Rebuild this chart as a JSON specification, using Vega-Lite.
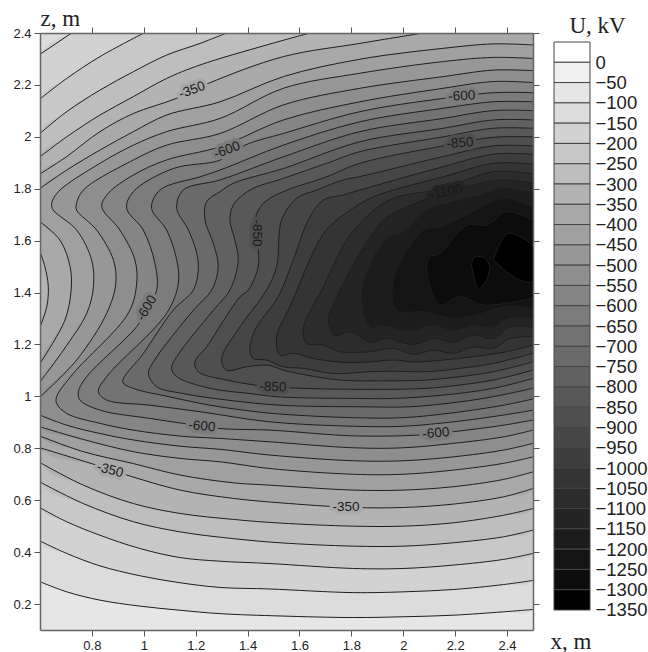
{"$schema":"https://vega.github.io/schema/vega-lite/v6.json","autosize":{"type":"none"},"padding":{"left":40,"top":33,"right":608,"bottom":619},"background":"white","bounds":"flush","spacing":21,
"datasets":{"contours":[
{"level":-100,"seg":"b","i":1,"x":0.6,"z":0.286},{"level":-100,"seg":"b","i":2,"x":0.703,"z":0.247},{"level":-100,"seg":"b","i":3,"x":0.831,"z":0.215},{"level":-100,"seg":"b","i":4,"x":0.985,"z":0.192},{"level":-100,"seg":"b","i":5,"x":1.14,"z":0.176},{"level":-100,"seg":"b","i":6,"x":1.294,"z":0.163},{"level":-100,"seg":"b","i":7,"x":1.525,"z":0.154},{"level":-100,"seg":"b","i":8,"x":1.808,"z":0.148},{"level":-100,"seg":"b","i":9,"x":2.0,"z":0.151},{"level":-100,"seg":"b","i":10,"x":2.193,"z":0.157},{"level":-100,"seg":"b","i":11,"x":2.386,"z":0.17},{"level":-100,"seg":"b","i":12,"x":2.5,"z":0.179},{"level":-100,"seg":"e","i":13,"x":2.5,"z":2.4},{"level":-100,"seg":"e","i":14,"x":0.6,"z":2.4},
{"level":-150,"seg":"a","i":1,"x":0.722,"z":2.4},{"level":-150,"seg":"a","i":2,"x":0.6,"z":2.318},{"level":-150,"seg":"b","i":3,"x":0.6,"z":0.443},{"level":-150,"seg":"b","i":4,"x":0.703,"z":0.395},{"level":-150,"seg":"b","i":5,"x":0.831,"z":0.347},{"level":-150,"seg":"b","i":6,"x":0.985,"z":0.309},{"level":-150,"seg":"b","i":7,"x":1.14,"z":0.282},{"level":-150,"seg":"b","i":8,"x":1.294,"z":0.264},{"level":-150,"seg":"b","i":9,"x":1.486,"z":0.258},{"level":-150,"seg":"b","i":10,"x":1.808,"z":0.244},{"level":-150,"seg":"b","i":11,"x":2.0,"z":0.247},{"level":-150,"seg":"b","i":12,"x":2.193,"z":0.256},{"level":-150,"seg":"b","i":13,"x":2.386,"z":0.275},{"level":-150,"seg":"b","i":14,"x":2.5,"z":0.291},{"level":-150,"seg":"e","i":15,"x":2.5,"z":2.4},
{"level":-200,"seg":"a","i":1,"x":1.0,"z":2.4},{"level":-200,"seg":"a","i":2,"x":0.831,"z":2.309},{"level":-200,"seg":"a","i":3,"x":0.703,"z":2.225},{"level":-200,"seg":"a","i":4,"x":0.6,"z":2.146},{"level":-200,"seg":"b","i":5,"x":0.6,"z":0.571},{"level":-200,"seg":"b","i":6,"x":0.703,"z":0.517},{"level":-200,"seg":"b","i":7,"x":0.831,"z":0.465},{"level":-200,"seg":"b","i":8,"x":0.985,"z":0.414},{"level":-200,"seg":"b","i":9,"x":1.14,"z":0.379},{"level":-200,"seg":"b","i":10,"x":1.294,"z":0.365},{"level":-200,"seg":"b","i":11,"x":1.486,"z":0.356},{"level":-200,"seg":"b","i":12,"x":1.808,"z":0.337},{"level":-200,"seg":"b","i":13,"x":2.0,"z":0.337},{"level":-200,"seg":"b","i":14,"x":2.193,"z":0.35},{"level":-200,"seg":"b","i":15,"x":2.386,"z":0.372},{"level":-200,"seg":"b","i":16,"x":2.5,"z":0.395},{"level":-200,"seg":"e","i":17,"x":2.5,"z":2.4},
{"level":-250,"seg":"a","i":1,"x":1.319,"z":2.4},{"level":-250,"seg":"a","i":2,"x":1.217,"z":2.36},{"level":-250,"seg":"a","i":3,"x":1.088,"z":2.315},{"level":-250,"seg":"a","i":4,"x":0.96,"z":2.251},{"level":-250,"seg":"a","i":5,"x":0.831,"z":2.18},{"level":-250,"seg":"a","i":6,"x":0.703,"z":2.097},{"level":-250,"seg":"a","i":7,"x":0.6,"z":2.013},{"level":-250,"seg":"b","i":8,"x":0.6,"z":0.67},{"level":-250,"seg":"b","i":9,"x":0.767,"z":0.587},{"level":-250,"seg":"b","i":10,"x":0.96,"z":0.517},{"level":-250,"seg":"b","i":11,"x":1.14,"z":0.478},{"level":-250,"seg":"b","i":12,"x":1.345,"z":0.452},{"level":-250,"seg":"b","i":13,"x":1.525,"z":0.436},{"level":-250,"seg":"b","i":14,"x":1.808,"z":0.423},{"level":-250,"seg":"b","i":15,"x":2.0,"z":0.423},{"level":-250,"seg":"b","i":16,"x":2.193,"z":0.436},{"level":-250,"seg":"b","i":17,"x":2.386,"z":0.459},{"level":-250,"seg":"b","i":18,"x":2.5,"z":0.485},{"level":-250,"seg":"e","i":19,"x":2.5,"z":2.4},
{"level":-300,"seg":"a","i":1,"x":1.64,"z":2.4},{"level":-300,"seg":"a","i":2,"x":1.474,"z":2.354},{"level":-300,"seg":"a","i":3,"x":1.217,"z":2.277},{"level":-300,"seg":"a","i":4,"x":1.088,"z":2.225},{"level":-300,"seg":"a","i":5,"x":0.96,"z":2.155},{"level":-300,"seg":"a","i":6,"x":0.831,"z":2.084},{"level":-300,"seg":"a","i":7,"x":0.703,"z":2.0},{"level":-300,"seg":"a","i":8,"x":0.6,"z":1.923},{"level":-300,"seg":"b","i":9,"x":0.6,"z":0.745},{"level":-300,"seg":"b","i":10,"x":0.767,"z":0.658},{"level":-300,"seg":"b","i":11,"x":0.96,"z":0.587},{"level":-300,"seg":"b","i":12,"x":1.14,"z":0.549},{"level":-300,"seg":"b","i":13,"x":1.345,"z":0.526},{"level":-300,"seg":"b","i":14,"x":1.525,"z":0.512},{"level":-300,"seg":"b","i":15,"x":1.808,"z":0.5},{"level":-300,"seg":"b","i":16,"x":2.0,"z":0.5},{"level":-300,"seg":"b","i":17,"x":2.193,"z":0.513},{"level":-300,"seg":"b","i":18,"x":2.386,"z":0.542},{"level":-300,"seg":"b","i":19,"x":2.5,"z":0.568},{"level":-300,"seg":"e","i":20,"x":2.5,"z":2.4},
{"level":-350,"seg":"a","i":1,"x":2.077,"z":2.4},{"level":-350,"seg":"a","i":2,"x":1.833,"z":2.36},{"level":-350,"seg":"a","i":3,"x":1.538,"z":2.309},{"level":-350,"seg":"a","i":4,"x":1.249,"z":2.206},{"level":-350,"seg":"a","i":5,"x":1.12,"z":2.146},{"level":-350,"seg":"a","i":6,"x":0.96,"z":2.09},{"level":-350,"seg":"a","i":7,"x":0.831,"z":2.02},{"level":-350,"seg":"a","i":8,"x":0.703,"z":1.924},{"level":-350,"seg":"a","i":9,"x":0.6,"z":1.857},{"level":-350,"seg":"b","i":10,"x":0.6,"z":1.557},{"level":-350,"seg":"b","i":11,"x":0.619,"z":1.499},{"level":-350,"seg":"b","i":12,"x":0.632,"z":1.423},{"level":-350,"seg":"b","i":13,"x":0.626,"z":1.345},{"level":-350,"seg":"b","i":14,"x":0.6,"z":1.268},{"level":-350,"seg":"c","i":15,"x":0.6,"z":0.802},{"level":-350,"seg":"c","i":16,"x":0.818,"z":0.735},{"level":-350,"seg":"c","i":17,"x":0.934,"z":0.697},{"level":-350,"seg":"c","i":18,"x":1.14,"z":0.639},{"level":-350,"seg":"c","i":19,"x":1.345,"z":0.607},{"level":-350,"seg":"c","i":20,"x":1.525,"z":0.59},{"level":-350,"seg":"c","i":21,"x":1.808,"z":0.572},{"level":-350,"seg":"c","i":22,"x":2.0,"z":0.572},{"level":-350,"seg":"c","i":23,"x":2.193,"z":0.585},{"level":-350,"seg":"c","i":24,"x":2.386,"z":0.613},{"level":-350,"seg":"c","i":25,"x":2.5,"z":0.645},{"level":-350,"seg":"e","i":26,"x":2.5,"z":2.4},
{"level":-400,"seg":"a","i":1,"x":2.5,"z":2.354},{"level":-400,"seg":"a","i":2,"x":2.347,"z":2.358},{"level":-400,"seg":"a","i":3,"x":2.154,"z":2.341},{"level":-400,"seg":"a","i":4,"x":1.833,"z":2.299},{"level":-400,"seg":"a","i":5,"x":1.538,"z":2.232},{"level":-400,"seg":"a","i":6,"x":1.294,"z":2.135},{"level":-400,"seg":"a","i":7,"x":1.088,"z":2.084},{"level":-400,"seg":"a","i":8,"x":0.96,"z":2.02},{"level":-400,"seg":"a","i":9,"x":0.831,"z":1.949},{"level":-400,"seg":"a","i":10,"x":0.703,"z":1.872},{"level":-400,"seg":"a","i":11,"x":0.6,"z":1.801},{"level":-400,"seg":"b","i":12,"x":0.6,"z":1.673},{"level":-400,"seg":"b","i":13,"x":0.677,"z":1.602},{"level":-400,"seg":"b","i":14,"x":0.716,"z":1.5},{"level":-400,"seg":"b","i":15,"x":0.72,"z":1.41},{"level":-400,"seg":"b","i":16,"x":0.696,"z":1.294},{"level":-400,"seg":"b","i":17,"x":0.6,"z":1.127},{"level":-400,"seg":"c","i":18,"x":0.6,"z":0.847},{"level":-400,"seg":"c","i":19,"x":0.767,"z":0.787},{"level":-400,"seg":"c","i":20,"x":0.96,"z":0.741},{"level":-400,"seg":"c","i":21,"x":1.14,"z":0.697},{"level":-400,"seg":"c","i":22,"x":1.345,"z":0.667},{"level":-400,"seg":"c","i":23,"x":1.486,"z":0.658},{"level":-400,"seg":"c","i":24,"x":1.808,"z":0.639},{"level":-400,"seg":"c","i":25,"x":2.0,"z":0.639},{"level":-400,"seg":"c","i":26,"x":2.193,"z":0.652},{"level":-400,"seg":"c","i":27,"x":2.386,"z":0.68},{"level":-400,"seg":"c","i":28,"x":2.5,"z":0.709},
{"level":-450,"seg":"a","i":1,"x":2.5,"z":2.302},{"level":-450,"seg":"a","i":2,"x":2.347,"z":2.306},{"level":-450,"seg":"a","i":3,"x":2.154,"z":2.29},{"level":-450,"seg":"a","i":4,"x":1.833,"z":2.245},{"level":-450,"seg":"a","i":5,"x":1.538,"z":2.187},{"level":-450,"seg":"a","i":6,"x":1.294,"z":2.071},{"level":-450,"seg":"a","i":7,"x":1.088,"z":2.02},{"level":-450,"seg":"a","i":8,"x":0.96,"z":1.968},{"level":-450,"seg":"a","i":9,"x":0.831,"z":1.898},{"level":-450,"seg":"a","i":10,"x":0.671,"z":1.789},{"level":-450,"seg":"a","i":11,"x":0.645,"z":1.744},{"level":-450,"seg":"a","i":12,"x":0.651,"z":1.718},{"level":-450,"seg":"a","i":13,"x":0.741,"z":1.641},{"level":-450,"seg":"a","i":14,"x":0.799,"z":1.525},{"level":-450,"seg":"a","i":15,"x":0.806,"z":1.423},{"level":-450,"seg":"a","i":16,"x":0.78,"z":1.32},{"level":-450,"seg":"a","i":17,"x":0.69,"z":1.178},{"level":-450,"seg":"a","i":18,"x":0.6,"z":1.056},{"level":-450,"seg":"b","i":19,"x":0.6,"z":0.883},{"level":-450,"seg":"b","i":20,"x":0.767,"z":0.834},{"level":-450,"seg":"b","i":21,"x":0.96,"z":0.787},{"level":-450,"seg":"b","i":22,"x":1.14,"z":0.761},{"level":-450,"seg":"b","i":23,"x":1.294,"z":0.748},{"level":-450,"seg":"b","i":24,"x":1.486,"z":0.722},{"level":-450,"seg":"b","i":25,"x":1.808,"z":0.7},{"level":-450,"seg":"b","i":26,"x":2.0,"z":0.7},{"level":-450,"seg":"b","i":27,"x":2.193,"z":0.716},{"level":-450,"seg":"b","i":28,"x":2.386,"z":0.742},{"level":-450,"seg":"b","i":29,"x":2.5,"z":0.767},
{"level":-500,"seg":"a","i":1,"x":2.5,"z":2.255},{"level":-500,"seg":"a","i":2,"x":2.347,"z":2.257},{"level":-500,"seg":"a","i":3,"x":2.154,"z":2.232},{"level":-500,"seg":"a","i":4,"x":1.833,"z":2.187},{"level":-500,"seg":"a","i":5,"x":1.538,"z":2.123},{"level":-500,"seg":"a","i":6,"x":1.294,"z":2.013},{"level":-500,"seg":"a","i":7,"x":1.088,"z":1.968},{"level":-500,"seg":"a","i":8,"x":0.96,"z":1.911},{"level":-500,"seg":"a","i":9,"x":0.767,"z":1.795},{"level":-500,"seg":"a","i":10,"x":0.741,"z":1.744},{"level":-500,"seg":"a","i":11,"x":0.741,"z":1.718},{"level":-500,"seg":"a","i":12,"x":0.818,"z":1.641},{"level":-500,"seg":"a","i":13,"x":0.883,"z":1.525},{"level":-500,"seg":"a","i":14,"x":0.892,"z":1.435},{"level":-500,"seg":"a","i":15,"x":0.857,"z":1.32},{"level":-500,"seg":"a","i":16,"x":0.741,"z":1.14},{"level":-500,"seg":"a","i":17,"x":0.6,"z":0.998},{"level":-500,"seg":"b","i":18,"x":0.6,"z":0.928},{"level":-500,"seg":"b","i":19,"x":0.703,"z":0.889},{"level":-500,"seg":"b","i":20,"x":0.831,"z":0.857},{"level":-500,"seg":"b","i":21,"x":0.96,"z":0.832},{"level":-500,"seg":"b","i":22,"x":1.14,"z":0.808},{"level":-500,"seg":"b","i":23,"x":1.294,"z":0.796},{"level":-500,"seg":"b","i":24,"x":1.486,"z":0.774},{"level":-500,"seg":"b","i":25,"x":1.808,"z":0.752},{"level":-500,"seg":"b","i":26,"x":2.0,"z":0.752},{"level":-500,"seg":"b","i":27,"x":2.193,"z":0.767},{"level":-500,"seg":"b","i":28,"x":2.386,"z":0.793},{"level":-500,"seg":"b","i":29,"x":2.5,"z":0.819},
{"level":-550,"seg":"a","i":1,"x":2.5,"z":2.209},{"level":-550,"seg":"a","i":2,"x":2.347,"z":2.213},{"level":-550,"seg":"a","i":3,"x":2.154,"z":2.187},{"level":-550,"seg":"a","i":4,"x":1.833,"z":2.135},{"level":-550,"seg":"a","i":5,"x":1.538,"z":2.065},{"level":-550,"seg":"a","i":6,"x":1.294,"z":1.962},{"level":-550,"seg":"a","i":7,"x":1.088,"z":1.911},{"level":-550,"seg":"a","i":8,"x":0.96,"z":1.853},{"level":-550,"seg":"a","i":9,"x":0.863,"z":1.782},{"level":-550,"seg":"a","i":10,"x":0.838,"z":1.731},{"level":-550,"seg":"a","i":11,"x":0.908,"z":1.641},{"level":-550,"seg":"a","i":12,"x":0.966,"z":1.525},{"level":-550,"seg":"a","i":13,"x":0.972,"z":1.429},{"level":-550,"seg":"a","i":14,"x":0.94,"z":1.32},{"level":-550,"seg":"a","i":15,"x":0.728,"z":1.088},{"level":-550,"seg":"a","i":16,"x":0.664,"z":0.999},{"level":-550,"seg":"a","i":17,"x":0.664,"z":0.973},{"level":-550,"seg":"a","i":18,"x":0.703,"z":0.934},{"level":-550,"seg":"a","i":19,"x":0.831,"z":0.896},{"level":-550,"seg":"a","i":20,"x":0.96,"z":0.87},{"level":-550,"seg":"a","i":21,"x":1.14,"z":0.847},{"level":-550,"seg":"a","i":22,"x":1.294,"z":0.838},{"level":-550,"seg":"a","i":23,"x":1.486,"z":0.825},{"level":-550,"seg":"a","i":24,"x":1.808,"z":0.802},{"level":-550,"seg":"a","i":25,"x":2.0,"z":0.802},{"level":-550,"seg":"a","i":26,"x":2.193,"z":0.819},{"level":-550,"seg":"a","i":27,"x":2.386,"z":0.844},{"level":-550,"seg":"a","i":28,"x":2.5,"z":0.87},
{"level":-600,"seg":"a","i":1,"x":2.5,"z":2.17},{"level":-600,"seg":"a","i":2,"x":2.347,"z":2.17},{"level":-600,"seg":"a","i":3,"x":2.154,"z":2.148},{"level":-600,"seg":"a","i":4,"x":1.833,"z":2.097},{"level":-600,"seg":"a","i":5,"x":1.538,"z":2.013},{"level":-600,"seg":"a","i":6,"x":1.39,"z":1.968},{"level":-600,"seg":"a","i":7,"x":1.294,"z":1.91},{"level":-600,"seg":"a","i":8,"x":1.114,"z":1.878},{"level":-600,"seg":"a","i":9,"x":0.96,"z":1.789},{"level":-600,"seg":"a","i":10,"x":0.934,"z":1.725},{"level":-600,"seg":"a","i":11,"x":0.998,"z":1.641},{"level":-600,"seg":"a","i":12,"x":1.043,"z":1.512},{"level":-600,"seg":"a","i":13,"x":1.05,"z":1.41},{"level":-600,"seg":"a","i":14,"x":1.011,"z":1.333},{"level":-600,"seg":"a","i":15,"x":0.972,"z":1.268},{"level":-600,"seg":"a","i":16,"x":0.78,"z":1.076},{"level":-600,"seg":"a","i":17,"x":0.748,"z":1.018},{"level":-600,"seg":"a","i":18,"x":0.754,"z":0.986},{"level":-600,"seg":"a","i":19,"x":0.831,"z":0.947},{"level":-600,"seg":"a","i":20,"x":1.024,"z":0.915},{"level":-600,"seg":"a","i":21,"x":1.152,"z":0.896},{"level":-600,"seg":"a","i":22,"x":1.294,"z":0.876},{"level":-600,"seg":"a","i":23,"x":1.486,"z":0.87},{"level":-600,"seg":"a","i":24,"x":1.808,"z":0.848},{"level":-600,"seg":"a","i":25,"x":2.058,"z":0.851},{"level":-600,"seg":"a","i":26,"x":2.193,"z":0.864},{"level":-600,"seg":"a","i":27,"x":2.386,"z":0.889},{"level":-600,"seg":"a","i":28,"x":2.5,"z":0.909},
{"level":-650,"seg":"a","i":1,"x":2.5,"z":2.135},{"level":-650,"seg":"a","i":2,"x":2.347,"z":2.135},{"level":-650,"seg":"a","i":3,"x":2.154,"z":2.11},{"level":-650,"seg":"a","i":4,"x":1.833,"z":2.058},{"level":-650,"seg":"a","i":5,"x":1.538,"z":1.968},{"level":-650,"seg":"a","i":6,"x":1.294,"z":1.872},{"level":-650,"seg":"a","i":7,"x":1.217,"z":1.846},{"level":-650,"seg":"a","i":8,"x":1.062,"z":1.795},{"level":-650,"seg":"a","i":9,"x":1.03,"z":1.725},{"level":-650,"seg":"a","i":10,"x":1.088,"z":1.641},{"level":-650,"seg":"a","i":11,"x":1.127,"z":1.525},{"level":-650,"seg":"a","i":12,"x":1.133,"z":1.435},{"level":-650,"seg":"a","i":13,"x":1.088,"z":1.32},{"level":-650,"seg":"a","i":14,"x":0.857,"z":1.076},{"level":-650,"seg":"a","i":15,"x":0.825,"z":1.018},{"level":-650,"seg":"a","i":16,"x":0.857,"z":0.986},{"level":-650,"seg":"a","i":17,"x":1.024,"z":0.966},{"level":-650,"seg":"a","i":18,"x":1.216,"z":0.941},{"level":-650,"seg":"a","i":19,"x":1.486,"z":0.902},{"level":-650,"seg":"a","i":20,"x":1.808,"z":0.885},{"level":-650,"seg":"a","i":21,"x":2.0,"z":0.885},{"level":-650,"seg":"a","i":22,"x":2.193,"z":0.902},{"level":-650,"seg":"a","i":23,"x":2.386,"z":0.928},{"level":-650,"seg":"a","i":24,"x":2.5,"z":0.947},
{"level":-700,"seg":"a","i":1,"x":2.5,"z":2.101},{"level":-700,"seg":"a","i":2,"x":2.347,"z":2.101},{"level":-700,"seg":"a","i":3,"x":2.154,"z":2.071},{"level":-700,"seg":"a","i":4,"x":1.833,"z":2.02},{"level":-700,"seg":"a","i":5,"x":1.538,"z":1.923},{"level":-700,"seg":"a","i":6,"x":1.294,"z":1.834},{"level":-700,"seg":"a","i":7,"x":1.152,"z":1.795},{"level":-700,"seg":"a","i":8,"x":1.127,"z":1.725},{"level":-700,"seg":"a","i":9,"x":1.172,"z":1.641},{"level":-700,"seg":"a","i":10,"x":1.204,"z":1.551},{"level":-700,"seg":"a","i":11,"x":1.21,"z":1.487},{"level":-700,"seg":"a","i":12,"x":1.191,"z":1.41},{"level":-700,"seg":"a","i":13,"x":1.114,"z":1.333},{"level":-700,"seg":"a","i":14,"x":0.998,"z":1.165},{"level":-700,"seg":"a","i":15,"x":0.919,"z":1.056},{"level":-700,"seg":"a","i":16,"x":0.96,"z":1.031},{"level":-700,"seg":"a","i":17,"x":1.101,"z":0.998},{"level":-700,"seg":"a","i":18,"x":1.255,"z":0.966},{"level":-700,"seg":"a","i":19,"x":1.384,"z":0.947},{"level":-700,"seg":"a","i":20,"x":1.525,"z":0.932},{"level":-700,"seg":"a","i":21,"x":1.808,"z":0.918},{"level":-700,"seg":"a","i":22,"x":2.0,"z":0.918},{"level":-700,"seg":"a","i":23,"x":2.193,"z":0.937},{"level":-700,"seg":"a","i":24,"x":2.386,"z":0.966},{"level":-700,"seg":"a","i":25,"x":2.5,"z":0.99},
{"level":-750,"seg":"a","i":1,"x":2.5,"z":2.065},{"level":-750,"seg":"a","i":2,"x":2.347,"z":2.065},{"level":-750,"seg":"a","i":3,"x":2.154,"z":2.033},{"level":-750,"seg":"a","i":4,"x":1.833,"z":1.981},{"level":-750,"seg":"a","i":5,"x":1.538,"z":1.878},{"level":-750,"seg":"a","i":6,"x":1.345,"z":1.821},{"level":-750,"seg":"a","i":7,"x":1.294,"z":1.789},{"level":-750,"seg":"a","i":8,"x":1.242,"z":1.75},{"level":-750,"seg":"a","i":9,"x":1.236,"z":1.679},{"level":-750,"seg":"a","i":10,"x":1.268,"z":1.589},{"level":-750,"seg":"a","i":11,"x":1.287,"z":1.5},{"level":-750,"seg":"a","i":12,"x":1.262,"z":1.41},{"level":-750,"seg":"a","i":13,"x":1.191,"z":1.332},{"level":-750,"seg":"a","i":14,"x":1.037,"z":1.133},{"level":-750,"seg":"a","i":15,"x":1.018,"z":1.088},{"level":-750,"seg":"a","i":16,"x":1.05,"z":1.037},{"level":-750,"seg":"a","i":17,"x":1.152,"z":1.011},{"level":-750,"seg":"a","i":18,"x":1.319,"z":0.986},{"level":-750,"seg":"a","i":19,"x":1.525,"z":0.966},{"level":-750,"seg":"a","i":20,"x":1.833,"z":0.96},{"level":-750,"seg":"a","i":21,"x":2.026,"z":0.96},{"level":-750,"seg":"a","i":22,"x":2.219,"z":0.979},{"level":-750,"seg":"a","i":23,"x":2.347,"z":0.999},{"level":-750,"seg":"a","i":24,"x":2.5,"z":1.031},
{"level":-800,"seg":"a","i":1,"x":2.5,"z":2.033},{"level":-800,"seg":"a","i":2,"x":2.347,"z":2.033},{"level":-800,"seg":"a","i":3,"x":2.154,"z":2.0},{"level":-800,"seg":"a","i":4,"x":1.833,"z":1.943},{"level":-800,"seg":"a","i":5,"x":1.705,"z":1.898},{"level":-800,"seg":"a","i":6,"x":1.538,"z":1.84},{"level":-800,"seg":"a","i":7,"x":1.409,"z":1.795},{"level":-800,"seg":"a","i":8,"x":1.345,"z":1.737},{"level":-800,"seg":"a","i":9,"x":1.332,"z":1.679},{"level":-800,"seg":"a","i":10,"x":1.351,"z":1.602},{"level":-800,"seg":"a","i":11,"x":1.364,"z":1.525},{"level":-800,"seg":"a","i":12,"x":1.332,"z":1.41},{"level":-800,"seg":"a","i":13,"x":1.268,"z":1.332},{"level":-800,"seg":"a","i":14,"x":1.127,"z":1.153},{"level":-800,"seg":"a","i":15,"x":1.107,"z":1.108},{"level":-800,"seg":"a","i":16,"x":1.127,"z":1.076},{"level":-800,"seg":"a","i":17,"x":1.255,"z":1.031},{"level":-800,"seg":"a","i":18,"x":1.409,"z":1.011},{"level":-800,"seg":"a","i":19,"x":1.525,"z":0.998},{"level":-800,"seg":"a","i":20,"x":1.833,"z":0.992},{"level":-800,"seg":"a","i":21,"x":1.962,"z":0.992},{"level":-800,"seg":"a","i":22,"x":2.154,"z":1.005},{"level":-800,"seg":"a","i":23,"x":2.347,"z":1.031},{"level":-800,"seg":"a","i":24,"x":2.5,"z":1.069},
{"level":-850,"seg":"a","i":1,"x":2.5,"z":2.0},{"level":-850,"seg":"a","i":2,"x":2.347,"z":1.998},{"level":-850,"seg":"a","i":3,"x":2.154,"z":1.965},{"level":-850,"seg":"a","i":4,"x":1.833,"z":1.898},{"level":-850,"seg":"a","i":5,"x":1.705,"z":1.846},{"level":-850,"seg":"a","i":6,"x":1.538,"z":1.789},{"level":-850,"seg":"a","i":7,"x":1.461,"z":1.744},{"level":-850,"seg":"a","i":8,"x":1.428,"z":1.679},{"level":-850,"seg":"a","i":9,"x":1.441,"z":1.564},{"level":-850,"seg":"a","i":10,"x":1.441,"z":1.5},{"level":-850,"seg":"a","i":11,"x":1.403,"z":1.41},{"level":-850,"seg":"a","i":12,"x":1.371,"z":1.384},{"level":-850,"seg":"a","i":13,"x":1.242,"z":1.191},{"level":-850,"seg":"a","i":14,"x":1.197,"z":1.133},{"level":-850,"seg":"a","i":15,"x":1.21,"z":1.095},{"level":-850,"seg":"a","i":16,"x":1.319,"z":1.063},{"level":-850,"seg":"a","i":17,"x":1.435,"z":1.043},{"level":-850,"seg":"a","i":18,"x":1.563,"z":1.033},{"level":-850,"seg":"a","i":19,"x":1.872,"z":1.027},{"level":-850,"seg":"a","i":20,"x":2.09,"z":1.031},{"level":-850,"seg":"a","i":21,"x":2.219,"z":1.044},{"level":-850,"seg":"a","i":22,"x":2.347,"z":1.063},{"level":-850,"seg":"a","i":23,"x":2.5,"z":1.101},
{"level":-900,"seg":"a","i":1,"x":2.5,"z":1.965},{"level":-900,"seg":"a","i":2,"x":2.347,"z":1.965},{"level":-900,"seg":"a","i":3,"x":2.154,"z":1.924},{"level":-900,"seg":"a","i":4,"x":1.833,"z":1.847},{"level":-900,"seg":"a","i":5,"x":1.769,"z":1.834},{"level":-900,"seg":"a","i":6,"x":1.666,"z":1.795},{"level":-900,"seg":"a","i":7,"x":1.589,"z":1.763},{"level":-900,"seg":"a","i":8,"x":1.531,"z":1.679},{"level":-900,"seg":"a","i":9,"x":1.512,"z":1.5},{"level":-900,"seg":"a","i":10,"x":1.473,"z":1.41},{"level":-900,"seg":"a","i":11,"x":1.371,"z":1.268},{"level":-900,"seg":"a","i":12,"x":1.3,"z":1.146},{"level":-900,"seg":"a","i":13,"x":1.319,"z":1.101},{"level":-900,"seg":"a","i":14,"x":1.396,"z":1.114},{"level":-900,"seg":"a","i":15,"x":1.48,"z":1.12},{"level":-900,"seg":"a","i":16,"x":1.538,"z":1.101},{"level":-900,"seg":"a","i":17,"x":1.628,"z":1.082},{"level":-900,"seg":"a","i":18,"x":1.756,"z":1.063},{"level":-900,"seg":"a","i":19,"x":1.962,"z":1.06},{"level":-900,"seg":"a","i":20,"x":2.09,"z":1.063},{"level":-900,"seg":"a","i":21,"x":2.219,"z":1.076},{"level":-900,"seg":"a","i":22,"x":2.347,"z":1.095},{"level":-900,"seg":"a","i":23,"x":2.5,"z":1.133},
{"level":-950,"seg":"a","i":1,"x":2.5,"z":1.933},{"level":-950,"seg":"a","i":2,"x":2.347,"z":1.933},{"level":-950,"seg":"a","i":3,"x":2.154,"z":1.885},{"level":-950,"seg":"a","i":4,"x":1.833,"z":1.795},{"level":-950,"seg":"a","i":5,"x":1.769,"z":1.776},{"level":-950,"seg":"a","i":6,"x":1.692,"z":1.756},{"level":-950,"seg":"a","i":7,"x":1.634,"z":1.679},{"level":-950,"seg":"a","i":8,"x":1.576,"z":1.525},{"level":-950,"seg":"a","i":9,"x":1.518,"z":1.384},{"level":-950,"seg":"a","i":10,"x":1.428,"z":1.255},{"level":-950,"seg":"a","i":11,"x":1.409,"z":1.178},{"level":-950,"seg":"a","i":12,"x":1.422,"z":1.146},{"level":-950,"seg":"a","i":13,"x":1.473,"z":1.14},{"level":-950,"seg":"a","i":14,"x":1.538,"z":1.114},{"level":-950,"seg":"a","i":15,"x":1.615,"z":1.108},{"level":-950,"seg":"a","i":16,"x":1.73,"z":1.088},{"level":-950,"seg":"a","i":17,"x":1.872,"z":1.095},{"level":-950,"seg":"a","i":18,"x":1.962,"z":1.097},{"level":-950,"seg":"a","i":19,"x":2.09,"z":1.095},{"level":-950,"seg":"a","i":20,"x":2.219,"z":1.108},{"level":-950,"seg":"a","i":21,"x":2.347,"z":1.127},{"level":-950,"seg":"a","i":22,"x":2.5,"z":1.166},
{"level":-1000,"seg":"a","i":1,"x":2.5,"z":1.895},{"level":-1000,"seg":"a","i":2,"x":2.347,"z":1.898},{"level":-1000,"seg":"a","i":3,"x":2.154,"z":1.846},{"level":-1000,"seg":"a","i":4,"x":1.962,"z":1.795},{"level":-1000,"seg":"a","i":5,"x":1.872,"z":1.763},{"level":-1000,"seg":"a","i":6,"x":1.743,"z":1.679},{"level":-1000,"seg":"a","i":7,"x":1.685,"z":1.615},{"level":-1000,"seg":"a","i":8,"x":1.563,"z":1.345},{"level":-1000,"seg":"a","i":9,"x":1.512,"z":1.23},{"level":-1000,"seg":"a","i":10,"x":1.525,"z":1.159},{"level":-1000,"seg":"a","i":11,"x":1.576,"z":1.166},{"level":-1000,"seg":"a","i":12,"x":1.653,"z":1.146},{"level":-1000,"seg":"a","i":13,"x":1.782,"z":1.13},{"level":-1000,"seg":"a","i":14,"x":1.872,"z":1.133},{"level":-1000,"seg":"a","i":15,"x":1.962,"z":1.14},{"level":-1000,"seg":"a","i":16,"x":2.039,"z":1.133},{"level":-1000,"seg":"a","i":17,"x":2.154,"z":1.14},{"level":-1000,"seg":"a","i":18,"x":2.27,"z":1.153},{"level":-1000,"seg":"a","i":19,"x":2.398,"z":1.172},{"level":-1000,"seg":"a","i":20,"x":2.5,"z":1.198},
{"level":-1050,"seg":"a","i":1,"x":2.5,"z":1.857},{"level":-1050,"seg":"a","i":2,"x":2.347,"z":1.866},{"level":-1050,"seg":"a","i":3,"x":2.154,"z":1.802},{"level":-1050,"seg":"a","i":4,"x":1.962,"z":1.763},{"level":-1050,"seg":"a","i":5,"x":1.872,"z":1.705},{"level":-1050,"seg":"a","i":6,"x":1.782,"z":1.602},{"level":-1050,"seg":"a","i":7,"x":1.692,"z":1.422},{"level":-1050,"seg":"a","i":8,"x":1.615,"z":1.262},{"level":-1050,"seg":"a","i":9,"x":1.628,"z":1.204},{"level":-1050,"seg":"a","i":10,"x":1.692,"z":1.198},{"level":-1050,"seg":"a","i":11,"x":1.756,"z":1.172},{"level":-1050,"seg":"a","i":12,"x":1.872,"z":1.172},{"level":-1050,"seg":"a","i":13,"x":1.962,"z":1.185},{"level":-1050,"seg":"a","i":14,"x":2.039,"z":1.162},{"level":-1050,"seg":"a","i":15,"x":2.116,"z":1.178},{"level":-1050,"seg":"a","i":16,"x":2.193,"z":1.166},{"level":-1050,"seg":"a","i":17,"x":2.27,"z":1.191},{"level":-1050,"seg":"a","i":18,"x":2.347,"z":1.185},{"level":-1050,"seg":"a","i":19,"x":2.411,"z":1.223},{"level":-1050,"seg":"a","i":20,"x":2.5,"z":1.23},
{"level":-1100,"seg":"a","i":1,"x":2.5,"z":1.821},{"level":-1100,"seg":"a","i":2,"x":2.373,"z":1.834},{"level":-1100,"seg":"a","i":3,"x":2.244,"z":1.808},{"level":-1100,"seg":"a","i":4,"x":2.097,"z":1.763},{"level":-1100,"seg":"a","i":5,"x":1.987,"z":1.718},{"level":-1100,"seg":"a","i":6,"x":1.923,"z":1.679},{"level":-1100,"seg":"a","i":7,"x":1.833,"z":1.551},{"level":-1100,"seg":"a","i":8,"x":1.73,"z":1.352},{"level":-1100,"seg":"a","i":9,"x":1.711,"z":1.294},{"level":-1100,"seg":"a","i":10,"x":1.737,"z":1.236},{"level":-1100,"seg":"a","i":11,"x":1.795,"z":1.249},{"level":-1100,"seg":"a","i":12,"x":1.872,"z":1.21},{"level":-1100,"seg":"a","i":13,"x":1.936,"z":1.223},{"level":-1100,"seg":"a","i":14,"x":2.039,"z":1.2},{"level":-1100,"seg":"a","i":15,"x":2.116,"z":1.223},{"level":-1100,"seg":"a","i":16,"x":2.193,"z":1.21},{"level":-1100,"seg":"a","i":17,"x":2.27,"z":1.236},{"level":-1100,"seg":"a","i":18,"x":2.347,"z":1.223},{"level":-1100,"seg":"a","i":19,"x":2.411,"z":1.268},{"level":-1100,"seg":"a","i":20,"x":2.5,"z":1.268},
{"level":-1150,"seg":"a","i":1,"x":2.5,"z":1.782},{"level":-1150,"seg":"a","i":2,"x":2.386,"z":1.801},{"level":-1150,"seg":"a","i":3,"x":2.296,"z":1.776},{"level":-1150,"seg":"a","i":4,"x":2.193,"z":1.75},{"level":-1150,"seg":"a","i":5,"x":2.09,"z":1.718},{"level":-1150,"seg":"a","i":6,"x":2.0,"z":1.634},{"level":-1150,"seg":"a","i":7,"x":1.936,"z":1.609},{"level":-1150,"seg":"a","i":8,"x":1.84,"z":1.397},{"level":-1150,"seg":"a","i":9,"x":1.878,"z":1.262},{"level":-1150,"seg":"a","i":10,"x":1.91,"z":1.275},{"level":-1150,"seg":"a","i":11,"x":2.026,"z":1.253},{"level":-1150,"seg":"a","i":12,"x":2.116,"z":1.275},{"level":-1150,"seg":"a","i":13,"x":2.193,"z":1.255},{"level":-1150,"seg":"a","i":14,"x":2.27,"z":1.275},{"level":-1150,"seg":"a","i":15,"x":2.347,"z":1.268},{"level":-1150,"seg":"a","i":16,"x":2.398,"z":1.3},{"level":-1150,"seg":"a","i":17,"x":2.5,"z":1.3},
{"level":-1200,"seg":"a","i":1,"x":2.5,"z":1.731},{"level":-1200,"seg":"a","i":2,"x":2.386,"z":1.763},{"level":-1200,"seg":"a","i":3,"x":2.232,"z":1.692},{"level":-1200,"seg":"a","i":4,"x":2.141,"z":1.654},{"level":-1200,"seg":"a","i":5,"x":2.077,"z":1.641},{"level":-1200,"seg":"a","i":6,"x":1.962,"z":1.448},{"level":-1200,"seg":"a","i":7,"x":1.975,"z":1.332},{"level":-1200,"seg":"a","i":8,"x":2.077,"z":1.326},{"level":-1200,"seg":"a","i":9,"x":2.193,"z":1.3},{"level":-1200,"seg":"a","i":10,"x":2.283,"z":1.313},{"level":-1200,"seg":"a","i":11,"x":2.386,"z":1.345},{"level":-1200,"seg":"a","i":12,"x":2.5,"z":1.339},
{"level":-1250,"seg":"a","i":1,"x":2.5,"z":1.679},{"level":-1250,"seg":"a","i":2,"x":2.398,"z":1.712},{"level":-1250,"seg":"a","i":3,"x":2.321,"z":1.66},{"level":-1250,"seg":"a","i":4,"x":2.244,"z":1.66},{"level":-1250,"seg":"a","i":5,"x":2.141,"z":1.551},{"level":-1250,"seg":"a","i":6,"x":2.103,"z":1.538},{"level":-1250,"seg":"a","i":7,"x":2.09,"z":1.487},{"level":-1250,"seg":"a","i":8,"x":2.141,"z":1.352},{"level":-1250,"seg":"a","i":9,"x":2.219,"z":1.384},{"level":-1250,"seg":"a","i":10,"x":2.308,"z":1.352},{"level":-1250,"seg":"a","i":11,"x":2.5,"z":1.378},
{"level":-1300,"seg":"a","i":1,"x":2.347,"z":1.525},{"level":-1300,"seg":"a","i":2,"x":2.373,"z":1.59},{"level":-1300,"seg":"a","i":3,"x":2.405,"z":1.628},{"level":-1300,"seg":"a","i":4,"x":2.463,"z":1.609},{"level":-1300,"seg":"a","i":5,"x":2.5,"z":1.577},{"level":-1300,"seg":"a","i":6,"x":2.5,"z":1.442},{"level":-1300,"seg":"a","i":7,"x":2.45,"z":1.448},{"level":-1300,"seg":"a","i":8,"x":2.398,"z":1.48},{"level":-1300,"seg":"a","i":9,"x":2.347,"z":1.525},
{"level":-1300,"seg":"b","i":10,"x":2.334,"z":1.5},{"level":-1300,"seg":"b","i":11,"x":2.321,"z":1.448},{"level":-1300,"seg":"b","i":12,"x":2.289,"z":1.416},{"level":-1300,"seg":"b","i":13,"x":2.27,"z":1.474},{"level":-1300,"seg":"b","i":14,"x":2.264,"z":1.512},{"level":-1300,"seg":"b","i":15,"x":2.277,"z":1.538},{"level":-1300,"seg":"b","i":16,"x":2.315,"z":1.532},{"level":-1300,"seg":"b","i":17,"x":2.334,"z":1.5}
],
"labels":[
{"level":-350,"tilt":-20,"x":1.186,"z":2.18},{"level":-600,"tilt":-20,"x":1.321,"z":1.949},{"level":-600,"tilt":-3,"x":2.226,"z":2.157},{"level":-850,"tilt":-4,"x":2.219,"z":1.976},{"level":-1100,"tilt":-12,"x":2.165,"z":1.787},{"level":-850,"tilt":90,"x":1.436,"z":1.629},{"level":-600,"tilt":-60,"x":1.012,"z":1.34},{"level":-850,"tilt":2,"x":1.498,"z":1.036},{"level":-600,"tilt":5,"x":1.224,"z":0.885},{"level":-350,"tilt":15,"x":0.87,"z":0.716},{"level":-600,"tilt":-5,"x":2.126,"z":0.858},{"level":-350,"tilt":0,"x":1.779,"z":0.573}
],
"bands":[
{"level":50,"lower":0},{"level":0,"lower":-50},{"level":-50,"lower":-100},{"level":-100,"lower":-150},{"level":-150,"lower":-200},{"level":-200,"lower":-250},{"level":-250,"lower":-300},{"level":-300,"lower":-350},{"level":-350,"lower":-400},{"level":-400,"lower":-450},{"level":-450,"lower":-500},{"level":-500,"lower":-550},{"level":-550,"lower":-600},{"level":-600,"lower":-650},{"level":-650,"lower":-700},{"level":-700,"lower":-750},{"level":-750,"lower":-800},{"level":-800,"lower":-850},{"level":-850,"lower":-900},{"level":-900,"lower":-950},{"level":-950,"lower":-1000},{"level":-1000,"lower":-1050},{"level":-1050,"lower":-1100},{"level":-1100,"lower":-1150},{"level":-1150,"lower":-1200},{"level":-1200,"lower":-1250},{"level":-1250,"lower":-1300},{"level":-1300,"lower":-1350}
]},
"hconcat":[
{"width":493,"height":597,"view":{"fill":"#e6e6e6","stroke":null},"data":{"name":"contours"},
"layer":[
{"mark":{"type":"line","filled":true,"interpolate":"catmull-rom","clip":true,"strokeWidth":0},
"encoding":{
"x":{"field":"x","type":"quantitative","scale":{"domain":[0.6,2.5],"nice":false,"zero":false},"axis":{"orient":"bottom","values":[0.8,1,1.2,1.4,1.6,1.8,2,2.2,2.4],"format":"~g","grid":false,"zindex":1,"domainColor":"#666666","domainWidth":1.5,"tickColor":"#555555","tickSize":6,"labelFont":"Liberation Sans","labelFontSize":13,"labelColor":"#222222","labelPadding":3,"title":"x, m","titleFont":"Liberation Serif","titleFontSize":23,"titleFontWeight":"normal","titleColor":"#222222","titleAlign":"left","titleBaseline":"alphabetic","titleX":510,"titleY":18}},
"y":{"field":"z","type":"quantitative","scale":{"domain":[0.1,2.4],"nice":false,"zero":false},"axis":{"orient":"left","values":[0.2,0.4,0.6,0.8,1,1.2,1.4,1.6,1.8,2,2.2,2.4],"format":"~g","grid":false,"zindex":1,"domainColor":"#666666","domainWidth":1.5,"tickColor":"#555555","tickSize":6,"labelFont":"Liberation Sans","labelFontSize":13,"labelColor":"#222222","labelPadding":3,"title":"z, m","titleFont":"Liberation Serif","titleFontSize":23,"titleFontWeight":"normal","titleColor":"#222222","titleAngle":0,"titleAlign":"left","titleBaseline":"alphabetic","titleX":0,"titleY":-8}},
"order":{"field":"i","type":"quantitative"},
"color":{"field":"level","type":"ordinal","legend":null,"scale":{"domain":[50,0,-50,-100,-150,-200,-250,-300,-350,-400,-450,-500,-550,-600,-650,-700,-750,-800,-850,-900,-950,-1000,-1050,-1100,-1150,-1200,-1250,-1300],"range":["#ffffff","#f0f0f0","#e6e6e6","#dcdcdc","#d2d2d2","#c8c8c8","#bebebe","#b3b3b3","#a9a9a9","#a0a0a0","#979797","#8e8e8e","#858585","#7c7c7c","#737373","#6a6a6a","#616161","#585858","#4f4f4f","#464646","#3d3d3d","#343434","#2c2c2c","#242424","#1c1c1c","#141414","#0c0c0c","#000000"]}}
}},
{"transform":[{"filter":"datum.seg != 'e'"}],"mark":{"type":"line","interpolate":"catmull-rom","clip":true,"stroke":"#1e1e1e","strokeWidth":1},
"encoding":{
"x":{"field":"x","type":"quantitative","axis":{"orient":"top","values":[0.8,1,1.2,1.4,1.6,1.8,2,2.2,2.4],"labels":false,"title":null,"grid":false,"zindex":1,"domainColor":"#666666","domainWidth":1.5,"tickColor":"#555555","tickSize":6}},
"y":{"field":"z","type":"quantitative","axis":{"orient":"right","values":[0.2,0.4,0.6,0.8,1,1.2,1.4,1.6,1.8,2,2.2,2.4],"labels":false,"title":null,"grid":false,"zindex":1,"domainColor":"#666666","domainWidth":1.5,"tickColor":"#555555","tickSize":6}},
"order":{"field":"i","type":"quantitative"},
"detail":[{"field":"level"},{"field":"seg"}]
}},
{"data":{"name":"labels"},"mark":{"type":"text","font":"Liberation Sans","fontSize":13.5,"strokeWidth":7,"strokeJoin":"round","align":"center","baseline":"middle"},
"encoding":{
"x":{"field":"x","type":"quantitative","axis":null},
"y":{"field":"z","type":"quantitative","axis":null},
"text":{"field":"level","type":"nominal"},
"angle":{"field":"tilt","type":"quantitative","scale":null},
"stroke":{"field":"level","type":"ordinal","legend":null,"scale":{"domain":[-350,-600,-850,-1100],"range":["#a9a9a9","#7c7c7c","#4f4f4f","#242424"]}}
}},
{"data":{"name":"labels"},"mark":{"type":"text","font":"Liberation Sans","fontSize":13.5,"fill":"#1a1a1a","align":"center","baseline":"middle"},
"encoding":{
"x":{"field":"x","type":"quantitative","axis":null},
"y":{"field":"z","type":"quantitative","axis":null},
"text":{"field":"level","type":"nominal"},
"angle":{"field":"tilt","type":"quantitative","scale":null}
}}
],
"resolve":{"axis":{"x":"independent","y":"independent"}}
},
{"width":36,"height":597,"view":{"stroke":null},"data":{"name":"bands"},
"mark":{"type":"rect","stroke":"#444444","strokeWidth":1},
"encoding":{
"y":{"field":"level","type":"quantitative","scale":{"domain":[-1399.3,72.2],"nice":false,"zero":false},"axis":{"orient":"right","values":[0,-50,-100,-150,-200,-250,-300,-350,-400,-450,-500,-550,-600,-650,-700,-750,-800,-850,-900,-950,-1000,-1050,-1100,-1150,-1200,-1250,-1300,-1350],"format":"d","grid":false,"domain":false,"ticks":false,"labelFont":"Liberation Sans","labelFontSize":18.5,"labelColor":"#222222","labelPadding":5,"labelOverlap":false,"title":"U, kV","titleFont":"Liberation Serif","titleFontSize":23,"titleFontWeight":"normal","titleColor":"#222222","titleAngle":0,"titleAlign":"center","titleBaseline":"alphabetic","titleX":7,"titleY":-1}},
"y2":{"field":"lower"},
"color":{"field":"level","type":"ordinal","legend":null}
}}
]}
